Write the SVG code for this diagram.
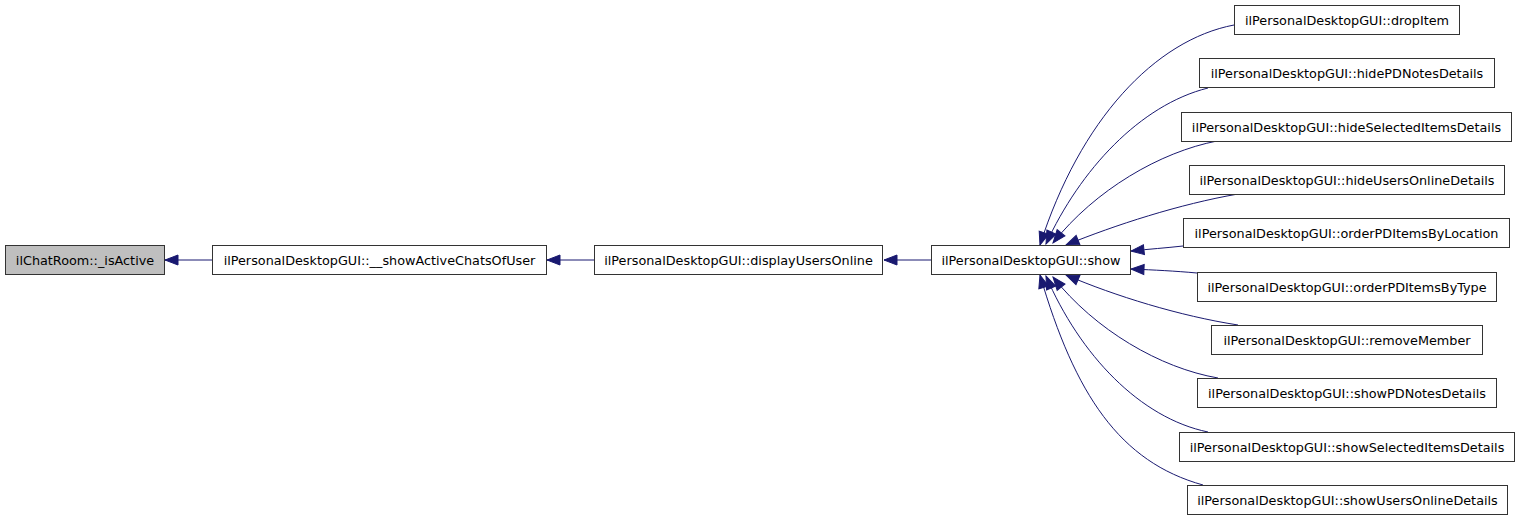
<svg xmlns="http://www.w3.org/2000/svg" width="1520" height="520" viewBox="0 0 1520 520">
<style>
.node rect{fill:#ffffff;stroke:#333333;stroke-width:1}
.node.root rect{fill:#bfbfbf}
.node text{font-family:"DejaVu Sans","Liberation Sans",sans-serif;font-size:12.8px;fill:#000000;text-anchor:middle}
.edges path{fill:none;stroke:#191970;stroke-width:1;marker-end:url(#ah)}
</style>
<defs>
<marker id="ah" markerWidth="14" markerHeight="11" refX="13.5" refY="5.5" orient="auto" markerUnits="userSpaceOnUse" overflow="visible">
<path d="M0.5,0.5 L13.5,5.5 L0.5,10.5 Z" fill="#191970" stroke="#191970" stroke-width="1"/>
</marker>
</defs>
<rect width="1520" height="520" fill="#ffffff"/>
<g class="edges">
<path d="M212,260 L165,260"/>
<path d="M594,260 L547,260"/>
<path d="M931,260 L884,260"/>
<path d="M1234,25 C1155,40 1080,120 1040,245"/>
<path d="M1208,88 C1140,105 1080,170 1046,244"/>
<path d="M1217,141 C1160,152 1095,190 1053,243"/>
<path d="M1238,194 C1180,204 1115,225 1066,245"/>
<path d="M1183,246 C1165,248 1150,249 1131,251"/>
<path d="M1197,273 C1175,271 1155,270 1131,269"/>
<path d="M1238,325 C1180,316 1115,296 1066,275"/>
<path d="M1218,378 C1160,368 1095,330 1053,277"/>
<path d="M1208,432 C1140,418 1080,355 1046,276"/>
<path d="M1203,485 C1120,462 1075,395 1040,275"/>
</g>
<g id="node_isActive" class="node root"><rect x="5.5" y="245.5" width="159" height="29"/><text x="85" y="264.5">ilChatRoom::_isActive</text></g>
<g id="node_showActiveChats" class="node"><rect x="212.5" y="245.5" width="334" height="29"/><text x="379.5" y="264.5">ilPersonalDesktopGUI::__showActiveChatsOfUser</text></g>
<g id="node_displayUsersOnline" class="node"><rect x="594.5" y="245.5" width="288" height="29"/><text x="738.5" y="264.5">ilPersonalDesktopGUI::displayUsersOnline</text></g>
<g id="node_show" class="node"><rect x="931.5" y="245.5" width="199" height="29"/><text x="1031" y="264.5">ilPersonalDesktopGUI::show</text></g>
<g id="node_dropItem" class="node"><rect x="1234.5" y="5.5" width="225" height="29"/><text x="1347" y="24.5">ilPersonalDesktopGUI::dropItem</text></g>
<g id="node_hidePDNotesDetails" class="node"><rect x="1199.5" y="58.5" width="295" height="29"/><text x="1347" y="77.5">ilPersonalDesktopGUI::hidePDNotesDetails</text></g>
<g id="node_hideSelectedItemsDetails" class="node"><rect x="1181.5" y="112.5" width="330" height="29"/><text x="1346.5" y="131.5">ilPersonalDesktopGUI::hideSelectedItemsDetails</text></g>
<g id="node_hideUsersOnlineDetails" class="node"><rect x="1189.5" y="165.5" width="315" height="29"/><text x="1347" y="184.5">ilPersonalDesktopGUI::hideUsersOnlineDetails</text></g>
<g id="node_orderPDItemsByLocation" class="node"><rect x="1183.5" y="218.5" width="326" height="29"/><text x="1346.5" y="237.5">ilPersonalDesktopGUI::orderPDItemsByLocation</text></g>
<g id="node_orderPDItemsByType" class="node"><rect x="1197.5" y="272.5" width="299" height="29"/><text x="1347" y="291.5">ilPersonalDesktopGUI::orderPDItemsByType</text></g>
<g id="node_removeMember" class="node"><rect x="1211.5" y="325.5" width="271" height="29"/><text x="1347" y="344.5">ilPersonalDesktopGUI::removeMember</text></g>
<g id="node_showPDNotesDetails" class="node"><rect x="1197.5" y="378.5" width="299" height="29"/><text x="1347" y="397.5">ilPersonalDesktopGUI::showPDNotesDetails</text></g>
<g id="node_showSelectedItemsDetails" class="node"><rect x="1179.5" y="432.5" width="335" height="29"/><text x="1347" y="451.5">ilPersonalDesktopGUI::showSelectedItemsDetails</text></g>
<g id="node_showUsersOnlineDetails" class="node"><rect x="1187.5" y="485.5" width="320" height="29"/><text x="1347.5" y="504.5">ilPersonalDesktopGUI::showUsersOnlineDetails</text></g>
</svg>
